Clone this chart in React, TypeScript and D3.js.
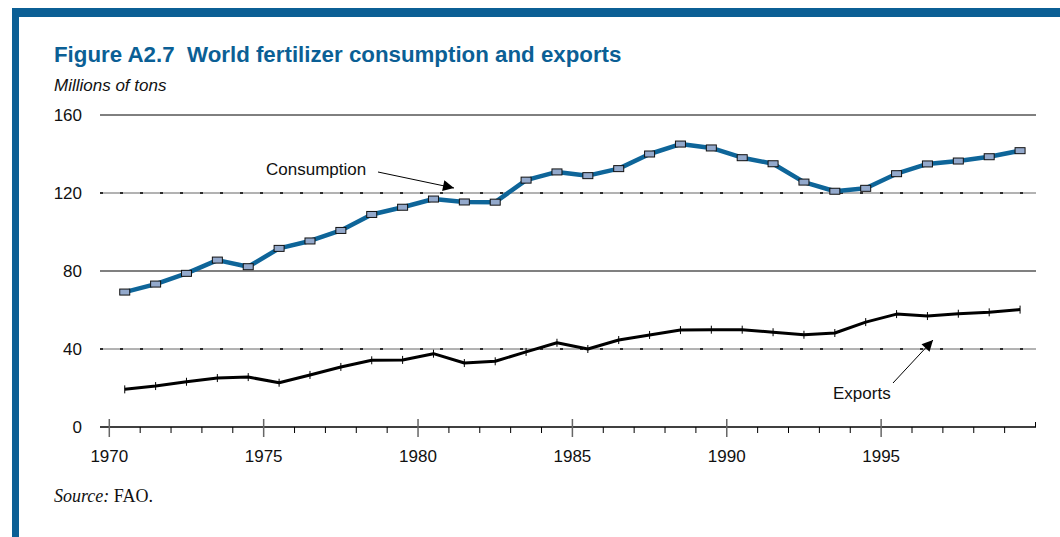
import * as d3 from "d3";

const years = d3.range(1970, 2000);
const consumption = [
  69.2, 73.3, 78.8, 85.6, 82.2, 91.6, 95.4, 100.8, 109.0, 112.7,
  116.9, 115.4, 115.3, 126.6, 130.8, 128.9, 132.5, 140.0, 145.1, 143.1,
  138.1, 135.0, 125.6, 120.9, 122.4, 129.9, 134.9, 136.4, 138.6, 141.7,
];
const exportsData = [
  19.3, 21.0, 23.2, 25.1, 25.6, 22.7, 26.7, 30.8, 34.2, 34.4,
  37.6, 32.8, 33.7, 38.5, 43.2, 40.0, 44.6, 47.2, 49.7, 49.9,
  49.9, 48.6, 47.3, 48.2, 53.8, 57.9, 56.9, 58.1, 58.8, 60.2,
];
const yTicks = [0, 40, 80, 120, 160];
const xLabels = [1970, 1975, 1980, 1985, 1990, 1995];

const BLUE = "#0b5f95";

export default function App() {
  const x = d3.scaleLinear().domain([1970, 2000]).range([109.3, 1035.5]);
  const y = d3.scaleLinear().domain([0, 160]).range([427, 115]);
  const gridX0 = 100;
  const gridX1 = 1036;

  const line = d3
    .line<number>()
    .x((_, i) => x(years[i] + 0.5))
    .y((d) => y(d));

  const minorTicks = d3.range(1971, 2000).filter((yr) => yr % 5 !== 0);

  return (
    <svg
      width={1060}
      height={537}
      style={{ position: "fixed", left: 0, top: 0, background: "#fff" }}
      fontFamily="Liberation Sans, Arial, sans-serif"
    >
      <defs>
        <marker id="arrowBig" viewBox="0 0 10 10" refX="10" refY="5" markerWidth="16" markerHeight="11" orient="auto" markerUnits="userSpaceOnUse">
          <path d="M0,0 L10,5 L0,10 z" fill="#000" />
        </marker>
      </defs>

      {/* frame */}
      <rect x={12} y={8} width={1048} height={9} fill={BLUE} />
      <rect x={12} y={8} width={7} height={529} fill={BLUE} />

      <text x={54} y={62} fill={BLUE} fontSize={22.3} fontWeight="bold">
        Figure A2.7{"\u00a0\u00a0"}World fertilizer consumption and exports
      </text>
      <text x={54} y={91} fontSize={17} fontStyle="italic" fill="#111">
        Millions of tons
      </text>

      {/* gridlines */}
      <line x1={gridX0} x2={gridX1} y1={y(160)} y2={y(160)} stroke="#000" strokeWidth={1} />
      {[120, 40].map((v) => (
        <g key={v}>
          <line x1={gridX0} x2={gridX1} y1={y(v)} y2={y(v)} stroke="#666" strokeWidth={1} />
          <line x1={gridX0} x2={gridX1} y1={y(v)} y2={y(v)} stroke="#000" strokeWidth={1.5} strokeDasharray="3 17" />
        </g>
      ))}
      <line x1={gridX0} x2={gridX1} y1={y(80)} y2={y(80)} stroke="#808080" strokeWidth={2} />

      {/* x axis */}
      <line x1={gridX0} x2={gridX1} y1={y(0)} y2={y(0)} stroke="#000" strokeWidth={1.5} />
      {minorTicks.map((yr) => (
        <line key={yr} x1={x(yr)} x2={x(yr)} y1={y(0)} y2={y(0) + 6} stroke="#000" strokeWidth={1} />
      ))}
      {xLabels.map((yr) => (
        <line key={yr} x1={x(yr)} x2={x(yr)} y1={y(0) - 8} y2={y(0) + 10} stroke="#666" strokeWidth={1.5} />
      ))}
      <line x1={x(2000)} x2={x(2000)} y1={y(0)} y2={y(0) - 5} stroke="#000" strokeWidth={1} />

      {yTicks.map((v) => (
        <text key={v} x={82} y={y(v) + 6} textAnchor="end" fontSize={17} fill="#111">
          {v}
        </text>
      ))}
      {xLabels.map((yr) => (
        <text key={yr} x={x(yr)} y={462} textAnchor="middle" fontSize={17} fill="#111">
          {yr}
        </text>
      ))}

      {/* exports */}
      <path d={line(exportsData) ?? ""} fill="none" stroke="#000" strokeWidth={3} strokeLinejoin="round" />
      {exportsData.map((v, i) => (
        <line key={i} x1={x(years[i] + 0.5)} x2={x(years[i] + 0.5)} y1={y(v) - 4} y2={y(v) + 4} stroke="#000" strokeWidth={1} />
      ))}

      {/* consumption */}
      <path d={line(consumption) ?? ""} fill="none" stroke="#0e6599" strokeWidth={4.5} strokeLinejoin="round" />
      {consumption.map((v, i) => (
        <rect
          key={i}
          x={x(years[i] + 0.5) - 5}
          y={y(v) - 3}
          width={10}
          height={6}
          fill="#93a9cc"
          stroke="#111"
          strokeWidth={1}
        />
      ))}

      {/* annotations */}
      <text x={266} y={175} fontSize={17} fill="#111">Consumption</text>
      <line x1={378} y1={172} x2={454} y2={188} stroke="#000" strokeWidth={1} markerEnd="url(#arrowBig)" />
      <text x={833} y={399} fontSize={17} fill="#111">Exports</text>
      <line x1={893} y1={383} x2={933} y2={340} stroke="#000" strokeWidth={1} markerEnd="url(#arrowBig)" />

      <text x={54} y={502} fontSize={18} fontFamily="Liberation Serif, Times New Roman, serif" fill="#111">
        <tspan fontStyle="italic">Source:</tspan> FAO.
      </text>
    </svg>
  );
}
